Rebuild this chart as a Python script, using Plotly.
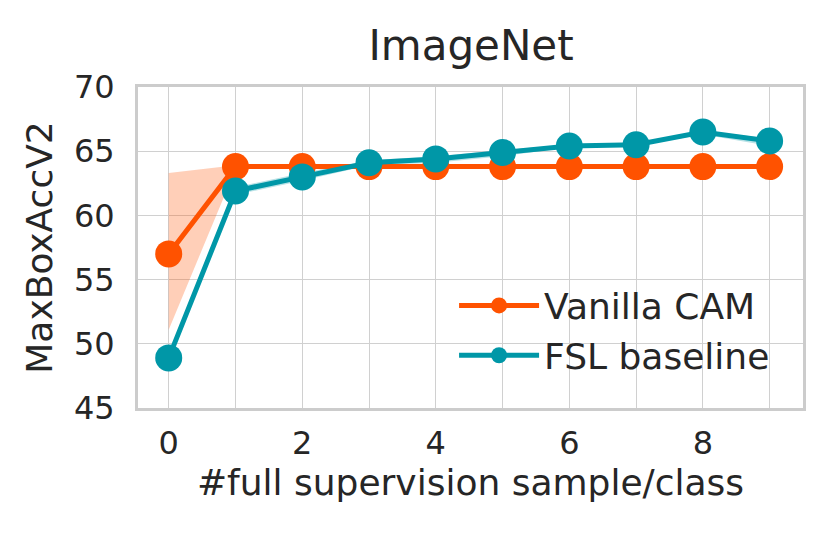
import plotly.graph_objects as go

x = [0, 1, 2, 3, 4, 5, 6, 7, 8, 9]
cam = [57.0, 63.8, 63.8, 63.8, 63.8, 63.8, 63.8, 63.8, 63.8, 63.8]
cam_lo = [51.1, 63.6, 63.7, 63.7, 63.7, 63.7, 63.7, 63.7, 63.7, 63.7]
cam_hi = [63.3, 63.9, 63.9, 63.9, 63.9, 63.9, 63.9, 63.9, 63.9, 63.9]
fsl = [48.9, 61.9, 63.0, 64.1, 64.4, 64.9, 65.4, 65.5, 66.5, 65.8]
fsl_lo = [48.7, 61.6, 62.7, 63.9, 64.1, 64.6, 65.3, 65.4, 66.3, 65.4]
fsl_hi = [49.1, 62.2, 63.3, 64.3, 64.6, 65.1, 65.5, 65.6, 66.6, 66.0]
xtick_vals = [0, 1, 2, 3, 4, 5, 6, 7, 8, 9]
xtick_text = ["0", "", "2", "", "4", "", "6", "", "8", ""]
ytick_vals = [45, 50, 55, 60, 65, 70]

ORANGE = "#ff5200"
TEAL = "#0097a7"
FONT = "DejaVu Sans"
TXT = "#262626"

fig = go.Figure()
# bands
fig.add_trace(go.Scatter(x=x, y=cam_hi, mode="lines", line=dict(width=0), showlegend=False, hoverinfo="skip"))
fig.add_trace(go.Scatter(x=x, y=cam_lo, mode="lines", line=dict(width=0), fill="tonexty",
                         fillcolor="rgba(255,82,0,0.28)", showlegend=False, hoverinfo="skip"))
fig.add_trace(go.Scatter(x=x, y=fsl_hi, mode="lines", line=dict(width=0), showlegend=False, hoverinfo="skip"))
fig.add_trace(go.Scatter(x=x, y=fsl_lo, mode="lines", line=dict(width=0), fill="tonexty",
                         fillcolor="rgba(0,151,167,0.28)", showlegend=False, hoverinfo="skip"))
# lines
fig.add_trace(go.Scatter(x=x, y=cam, mode="lines+markers", name="Vanilla CAM",
                         line=dict(color=ORANGE, width=5), marker=dict(color=ORANGE, size=27)))
fig.add_trace(go.Scatter(x=x, y=fsl, mode="lines+markers", name="FSL baseline",
                         line=dict(color=TEAL, width=5), marker=dict(color=TEAL, size=27)))

axis_common = dict(showgrid=True, gridcolor="#d0d0d0", gridwidth=1.3, zeroline=False,
                   showline=True, linecolor="#cccccc", linewidth=3, mirror=True,
                   ticks="", tickfont=dict(family=FONT, size=32, color=TXT))
fig.update_xaxes(range=[-0.46, 9.5], tickvals=xtick_vals, ticktext=xtick_text, ticklabelstandoff=5,
                 title=dict(text="#full supervision sample/class", font=dict(family=FONT, size=36, color=TXT), standoff=6),
                 **axis_common)
fig.update_yaxes(range=[45, 70], tickvals=ytick_vals, ticklabelstandoff=14,
                 title=dict(text="MaxBoxAccV2", font=dict(family=FONT, size=36, color=TXT), standoff=11),
                 **axis_common)

fig.update_layout(
    width=832, height=537,
    margin=dict(l=130, r=37, t=79, b=137),
    plot_bgcolor="white", paper_bgcolor="white",
    font=dict(family=FONT, color=TXT),
    title=dict(text="ImageNet", x=0.5565, xanchor="center", y=0.93, yanchor="middle",
               font=dict(family=FONT, size=42, color=TXT)),
    legend=dict(x=0.958, xanchor="right", y=0.07, yanchor="bottom", bgcolor="rgba(255,255,255,0)",
                font=dict(family=FONT, size=36, color=TXT), itemwidth=80, traceorder="normal",
                tracegroupgap=0),
    showlegend=True,
)

fig.write_html("out.html")
